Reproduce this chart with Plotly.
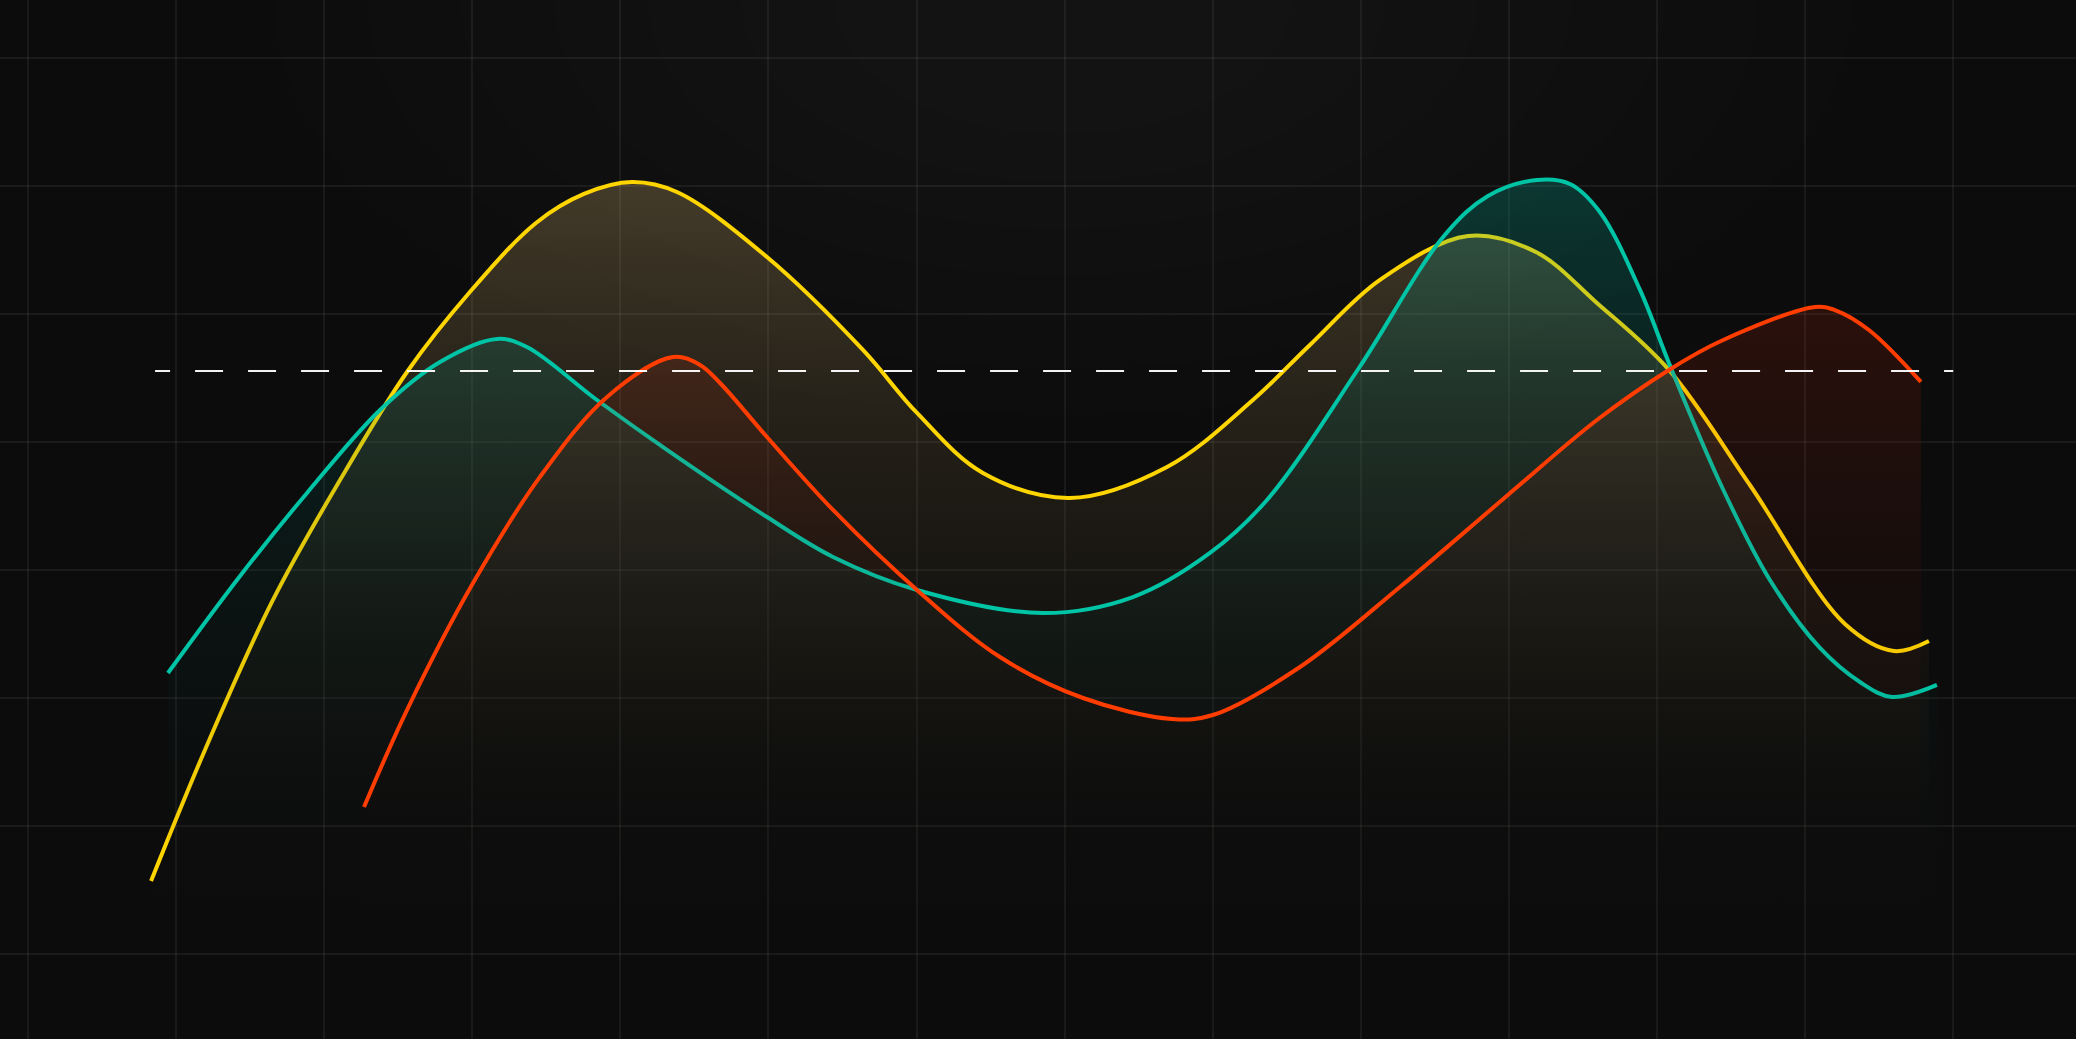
import plotly.graph_objects as go

# values (x in grid columns, y in grid units of 10)
gold_x = [0.831, 1.195, 1.654, 2.107, 2.559, 2.978, 3.430, 3.754, 4.078, 4.382, 4.990, 5.638, 6.003,
          6.448, 7.036, 7.691, 8.271, 8.656, 9.129, 9.723, 10.182, 10.594, 11.080, 11.627,
          12.269, 12.600, 12.836]
gold_y = [5.70, 15.94, 27.66, 37.03, 45.47, 51.64, 57.11, 59.38, 60.31, 59.53, 54.45, 47.19, 42.27,
          37.58, 35.63, 38.05, 43.28, 47.58, 52.66, 56.09, 54.84, 50.86, 45.63, 36.64,
          25.78, 23.67, 24.45]

teal_x = [0.945, 1.432, 1.884, 2.377, 2.782, 3.167, 3.369, 3.842, 4.315, 4.990, 5.436, 6.003, 6.854,
          7.461, 7.981, 8.366, 8.987, 9.561, 9.858, 10.189, 10.412, 10.614, 10.885, 11.094,
          11.432, 11.762, 12.100, 12.370, 12.586, 12.890]
teal_y = [21.95, 29.53, 36.02, 42.50, 46.25, 48.05, 47.42, 43.28, 39.38, 34.14, 31.02, 28.44, 26.64,
          27.89, 31.33, 35.47, 45.78, 56.09, 59.22, 60.47, 60.16, 57.97, 51.88, 45.78,
          36.64, 29.22, 23.91, 21.25, 20.08, 21.02]

red_x = [2.269, 2.559, 3.005, 3.457, 3.910, 4.355, 4.538, 4.673, 4.990, 5.436, 6.003, 6.563, 7.124,
         7.725, 8.001, 8.589, 9.264, 9.993, 10.594, 11.080, 11.432, 12.066, 12.201, 12.431, 12.782]
red_y = [11.48, 19.06, 28.98, 37.27, 43.52, 46.64, 46.02, 44.61, 40.39, 34.69, 28.44, 23.20, 20.00,
         18.36, 18.67, 22.42, 28.67, 35.86, 41.72, 45.63, 47.89, 50.55, 50.31, 48.75, 44.69]

ref_level = 45.55
ref_start, ref_end = 0.858, 13.0

series = [
    ("gold", gold_x, gold_y, "#FFD500", "rgba(225,190,120,0.25)"),
    ("teal", teal_x, teal_y, "#00C4A6", "rgba(0,190,168,0.23)"),
    ("red", red_x, red_y, "#FF3D00", "rgba(255,45,10,0.13)"),
]

fig = go.Figure()

for name, xs, ys, line_col, fill_col in series:
    fig.add_trace(go.Scatter(
        x=xs, y=ys, name=name, mode="lines",
        line=dict(color=line_col, width=4, shape="spline", smoothing=1.0),
        fill="tozeroy",
        fillgradient=dict(
            type="vertical",
            start=0, stop=max(ys),
            colorscale=[[0, "rgba(0,0,0,0)"], [1, fill_col]],
        ),
        hoverinfo="skip",
    ))

# soft glow at the top centre of the background
shapes = []
for i in range(7):
    rx = 0.38 - i * 0.045
    ry = 0.40 - i * 0.045
    shapes.append(dict(
        type="circle", xref="paper", yref="paper", layer="below",
        x0=0.512 - rx, x1=0.512 + rx, y0=1.0 - ry, y1=1.0 + ry,
        fillcolor="rgba(255,255,255,0.006)", line=dict(width=0),
    ))

dash_pattern = "15px,25px," + ",".join(["28px,25px"] * 34)
shapes.append(dict(
    type="line", xref="x", yref="y", layer="above",
    x0=ref_start, x1=ref_end, y0=ref_level, y1=ref_level,
    line=dict(color="rgba(255,255,255,0.95)", width=2, dash=dash_pattern),
))

grid_col = "rgba(255,255,255,0.06)"
fig.update_layout(
    width=2076, height=1039,
    margin=dict(l=0, r=0, t=0, b=0),
    paper_bgcolor="#0c0c0c",
    plot_bgcolor="rgba(0,0,0,0)",
    showlegend=False,
    shapes=shapes,
    xaxis=dict(range=[-0.189, 13.829], tick0=0, dtick=1, showgrid=True, gridcolor=grid_col,
               gridwidth=2, zeroline=False, showticklabels=False, showline=False, fixedrange=True),
    yaxis=dict(range=[-6.64, 74.53], tick0=0, dtick=10, showgrid=True, gridcolor=grid_col,
               gridwidth=2, zeroline=False, showticklabels=False, showline=False, fixedrange=True),
)

page_fix = ("document.body.style.margin='0';document.body.style.background='#0c0c0c';"
            "document.body.style.overflow='hidden';")
fig.write_html("out.html", config={"displayModeBar": False}, post_script=page_fix)
